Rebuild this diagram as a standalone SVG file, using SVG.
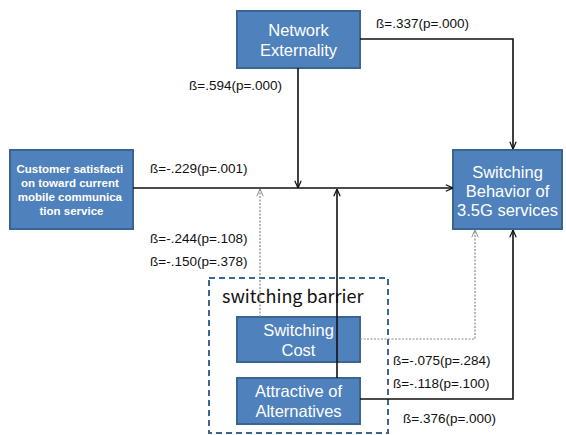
<svg xmlns="http://www.w3.org/2000/svg" width="566" height="435" viewBox="0 0 566 435">
<style>
.box{fill:#4f81bd;stroke:#3a6593;stroke-width:2}
.nt{font-family:"Liberation Sans",Arial,sans-serif;font-size:16.5px;fill:#fff;text-anchor:middle}
.lbl{font-family:"Liberation Sans",Arial,sans-serif;font-size:13.5px;fill:#111}
.ln{fill:none;stroke:#111;stroke-width:1.6}
.dot{fill:none;stroke:#888;stroke-width:1.2;stroke-dasharray:2,1.5}
</style>
<defs>
<marker id="a" viewBox="0 0 10 10" refX="10" refY="5" markerWidth="8" markerHeight="8" orient="auto" markerUnits="userSpaceOnUse"><path d="M1,1 L10,5 L1,9" fill="none" stroke="#111" stroke-width="1.5"/></marker>
<marker id="ad" viewBox="0 0 10 10" refX="10" refY="5" markerWidth="8" markerHeight="8" orient="auto" markerUnits="userSpaceOnUse"><path d="M1,1 L10,5 L1,9" fill="none" stroke="#888" stroke-width="1.2"/></marker>
</defs>
<rect width="566" height="435" fill="#fff"/>
<g id="barrier">
<rect x="209" y="278" width="179" height="155" fill="none" stroke="#3a6593" stroke-width="2" stroke-dasharray="6,4"/>
<text x="222" y="303" font-family="Noto Sans CJK KR,Open Sans,sans-serif" font-size="18" fill="#111">switching barrier</text>
</g>
<g id="network">
<rect class="box" x="237" y="11" width="123" height="57"/>
<text class="nt" x="298.5" y="36">Network</text>
<text class="nt" x="298.5" y="56">Externality</text>
</g>
<g id="customer">
<rect class="box" x="10" y="150" width="123" height="79"/>
<text font-family="Liberation Sans,Arial,sans-serif" font-size="11.5" font-weight="bold" fill="#fff" text-anchor="middle">
<tspan x="71.5" y="173">Customer satisfacti</tspan>
<tspan x="71.5" y="187">on toward current</tspan>
<tspan x="71.5" y="201">mobile communica</tspan>
<tspan x="71.5" y="215">tion service</tspan>
</text>
</g>
<g id="behavior">
<rect class="box" x="453" y="150" width="109" height="79"/>
<text class="nt" x="507.5" y="178">Switching</text>
<text class="nt" x="507.5" y="197">Behavior of</text>
<text class="nt" x="507.5" y="216">3.5G services</text>
</g>
<g id="cost">
<rect class="box" x="237" y="317" width="123" height="45"/>
<text class="nt" x="298.5" y="336">Switching</text>
<text class="nt" x="298.5" y="356">Cost</text>
</g>
<g id="attractive">
<rect class="box" x="237" y="378" width="123" height="46"/>
<text class="nt" x="298.5" y="397">Attractive of</text>
<text class="nt" x="298.5" y="417">Alternatives</text>
</g>
<g id="connectors">
<path class="ln" d="M360,39 H513 V149" marker-end="url(#a)"/>
<path class="ln" d="M298,68 V188" marker-end="url(#a)"/>
<path class="ln" d="M133,188 H453" marker-end="url(#a)"/>
<path class="dot" d="M260,317 V189" marker-end="url(#ad)"/>
<path class="ln" d="M337,378 V189" marker-end="url(#a)"/>
<path class="dot" d="M360,339 H475 V230" marker-end="url(#ad)"/>
<path class="ln" d="M360,399 H513 V230" marker-end="url(#a)"/>
</g>
<g id="labels">
<text class="lbl" x="376" y="28">ß=.337(p=.000)</text>
<text class="lbl" x="189" y="90">ß=.594(p=.000)</text>
<text class="lbl" x="150" y="173">ß=-.229(p=.001)</text>
<text class="lbl" x="150" y="243">ß=-.244(p=.108)</text>
<text class="lbl" x="150" y="266">ß=-.150(p=.378)</text>
<text class="lbl" x="393" y="365">ß=-.075(p=.284)</text>
<text class="lbl" x="393" y="388">ß=-.118(p=.100)</text>
<text class="lbl" x="403" y="423">ß=.376(p=.000)</text>
</g>
</svg>
